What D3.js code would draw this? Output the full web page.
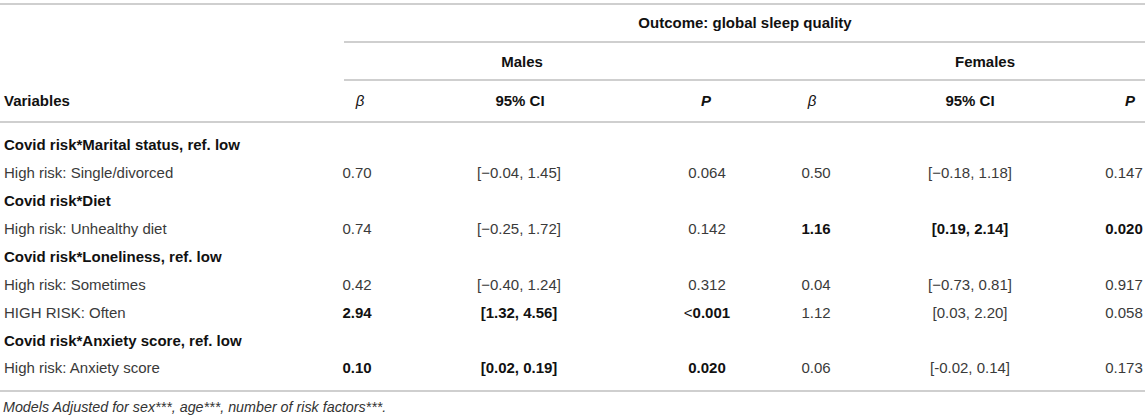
<!DOCTYPE html>
<html lang="en">
<head>
  <meta charset="UTF-8">
  <title>Outcome: global sleep quality</title>
  <script src="https://d3js.org/d3.v7.min.js"></script>
  <style>
    body{
      margin:0;
      background:#fff;
      font-family: "Liberation Sans", Arial, Helvetica, sans-serif;
    }
  </style>
</head>
<body>
<div id="table_area"></div>
<script>
// table contents
var rowLabels = ["Covid risk*Marital status, ref. low", "High risk: Single/divorced",
  "Covid risk*Diet", "High risk: Unhealthy diet",
  "Covid risk*Loneliness, ref. low", "High risk: Sometimes", "HIGH RISK: Often",
  "Covid risk*Anxiety score, ref. low", "High risk: Anxiety score"];
var isGroup = [true, false, true, false, true, false, false, true, false];

var betaMales   = ["", "0.70", "", "0.74", "", "0.42", "2.94", "", "0.10"];
var ciMales     = ["", "[\u22120.04, 1.45]", "", "[\u22120.25, 1.72]", "", "[\u22120.40, 1.24]", "[1.32, 4.56]", "", "[0.02, 0.19]"];
var pMales      = ["", "0.064", "", "0.142", "", "0.312", "<0.001", "", "0.020"];
var boldMales   = [false, false, false, false, false, false, true, false, true];

var betaFemales = ["", "0.50", "", "1.16", "", "0.04", "1.12", "", "0.06"];
var ciFemales   = ["", "[\u22120.18, 1.18]", "", "[0.19, 2.14]", "", "[\u22120.73, 0.81]", "[0.03, 2.20]", "", "[-0.02, 0.14]"];
var pFemales    = ["", "0.147", "", "0.020", "", "0.917", "0.058", "", "0.173"];
var boldFemales = [false, false, false, true, false, false, false, false, false];

var columns = ["betaM", "ciM", "pM", "betaF", "ciF", "pF"];
var columnHeads = ["\u03b2", "95% CI", "P", "\u03b2", "95% CI", "P"];
var groupHeads = ["Males", "Females"];
var outcomeHead = "Outcome: global sleep quality";
var footnote = "Models Adjusted for sex***, age***, number of risk factors***.";

var width = 1145, height = 419;
var fontSize = 15;

// x position of each column centre (cells and headings)
var x = d3.scaleOrdinal()
  .domain(columns)
  .range([357, 519, 707, 816, 970, 1124]);
var xHead = d3.scaleOrdinal()
  .domain(columns)
  .range([360, 520, 706, 812, 970, 1130]);
var xGroup = d3.scaleOrdinal().domain(groupHeads).range([522, 985]);

// rows of the body
var y = d3.scaleBand()
  .domain(d3.range(rowLabels.length))
  .range([131, 382]);

// header levels
var yHead = d3.scalePoint()
  .domain(["outcome", "group", "column"])
  .range([23, 101]);

var svg = d3.select("#table_area").append("svg")
  .attr("width", width)
  .attr("height", height);

// rules
var rules = [
  {y: 4, x1: 0}, {y: 42, x1: 344}, {y: 80, x1: 344}, {y: 122, x1: 0}, {y: 391, x1: 0}
];
svg.selectAll("line.rule")
  .data(rules)
  .enter().append("line")
    .attr("class", "rule")
    .attr("x1", function(d){ return d.x1; })
    .attr("x2", width)
    .attr("y1", function(d){ return d.y; })
    .attr("y2", function(d){ return d.y; })
    .attr("stroke", "#bfbfbf")
    .attr("stroke-width", 1.6);

function txt(sel){
  return sel.attr("font-size", fontSize + "px")
    .attr("dy", "0.36em");
}

// header: outcome
txt(svg.append("text"))
  .attr("x", 745)
  .attr("y", yHead("outcome"))
  .attr("text-anchor", "middle")
  .attr("font-weight", "bold")
  .attr("fill", "#111")
  .text(outcomeHead);

// header: sex groups
txt(svg.selectAll("text.group").data(groupHeads).enter().append("text"))
  .attr("class", "group")
  .attr("x", function(d){ return xGroup(d); })
  .attr("y", yHead("group"))
  .attr("text-anchor", "middle")
  .attr("font-weight", "bold")
  .attr("fill", "#111")
  .text(function(d){ return d; });

// header: column names
txt(svg.append("text"))
  .attr("x", 4)
  .attr("y", yHead("column"))
  .attr("font-weight", "bold")
  .attr("fill", "#111")
  .text("Variables");

txt(svg.selectAll("text.colhead").data(columns).enter().append("text"))
  .attr("class", "colhead")
  .attr("x", function(d){ return xHead(d); })
  .attr("y", yHead("column"))
  .attr("text-anchor", "middle")
  .attr("font-weight", function(d, i){ return columnHeads[i] === "\u03b2" ? "normal" : "bold"; })
  .attr("font-style", function(d, i){ return columnHeads[i] === "95% CI" ? "normal" : "italic"; })
  .attr("fill", "#111")
  .text(function(d, i){ return columnHeads[i]; });

// row labels
txt(svg.selectAll("text.label").data(rowLabels).enter().append("text"))
  .attr("class", "label")
  .attr("x", 4)
  .attr("y", function(d, i){ return y(i) + y.bandwidth() / 2; })
  .attr("font-weight", function(d, i){ return isGroup[i] ? "bold" : "normal"; })
  .attr("fill", function(d, i){ return isGroup[i] ? "#111" : "#3a3a3a"; })
  .text(function(d){ return d; });

// cells
var cells = [];
rowLabels.forEach(function(label, i){
  var vals = [betaMales[i], ciMales[i], pMales[i], betaFemales[i], ciFemales[i], pFemales[i]];
  vals.forEach(function(v, j){
    if (v === "") return;
    var bold = j < 3 ? boldMales[i] : boldFemales[i];
    cells.push({row: i, col: columns[j], value: v, bold: bold});
  });
});

var cellText = txt(svg.selectAll("text.cell").data(cells).enter().append("text"))
  .attr("class", "cell")
  .attr("x", function(d){ return x(d.col); })
  .attr("y", function(d){ return y(d.row) + y.bandwidth() / 2; })
  .attr("text-anchor", "middle")
  .attr("font-weight", function(d){ return d.bold ? "bold" : "normal"; })
  .attr("fill", function(d){ return d.bold ? "#111" : "#3a3a3a"; });

cellText.each(function(d){
  var t = d3.select(this);
  if (d.value.charAt(0) === "<") {
    // the "<" sign is set in a plain weight
    t.append("tspan").attr("font-weight", "normal").text("<");
    t.append("tspan").text(d.value.slice(1));
  } else {
    t.text(d.value);
  }
});

// footnote
svg.append("text")
  .attr("x", 3)
  .attr("y", 407)
  .attr("dy", "0.36em")
  .attr("font-size", "14.3px")
  .attr("font-style", "italic")
  .attr("fill", "#333")
  .text(footnote);
</script>
</body>
</html>
